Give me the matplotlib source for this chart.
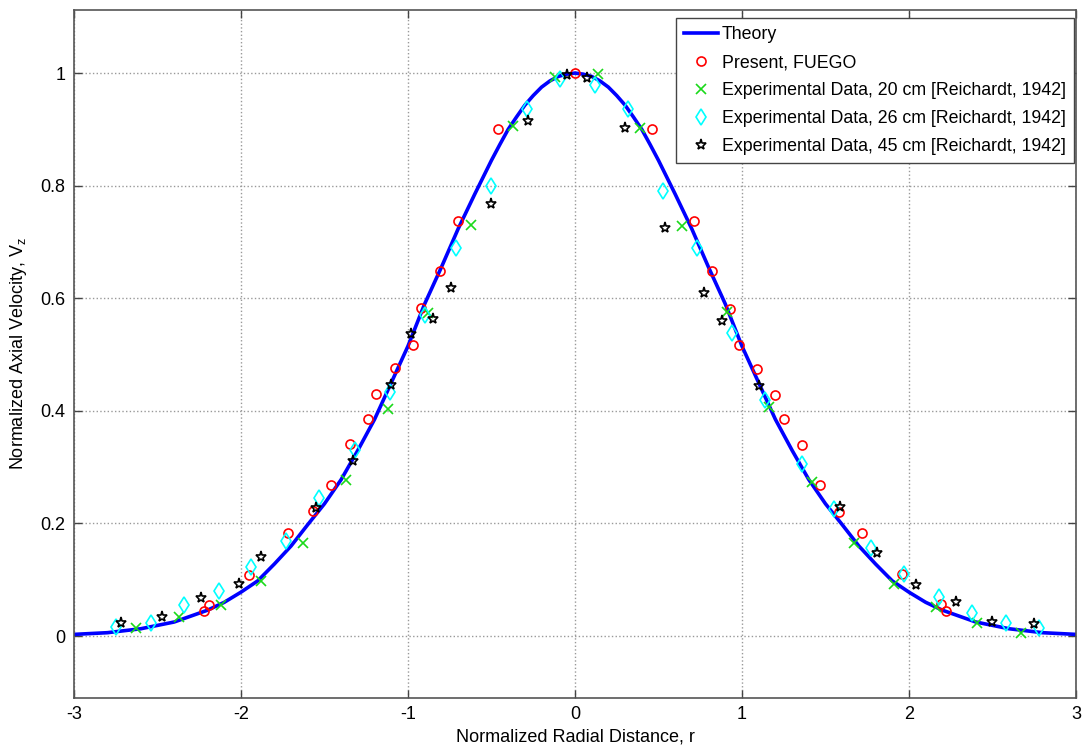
import matplotlib
matplotlib.use("Agg")
import matplotlib.pyplot as plt

plt.rcParams['font.family'] = ['Liberation Sans', 'DejaVu Sans']

# Theory curve
theory_r = [-3.0, -2.8, -2.6, -2.4, -2.2, -2.1, -2.0, -1.9, -1.8, -1.7, -1.6, -1.5, -1.4, -1.3,
            -1.2, -1.1, -1.0, -0.9, -0.8, -0.7, -0.6, -0.5, -0.45, -0.4, -0.35, -0.3, -0.25,
            -0.2, -0.15, -0.1, -0.05, 0.0,
            0.05, 0.1, 0.15, 0.2, 0.25, 0.3, 0.35, 0.4, 0.45, 0.5, 0.6, 0.7, 0.8, 0.9, 1.0,
            1.1, 1.2, 1.3, 1.4, 1.5, 1.6, 1.7, 1.8, 1.9, 2.0, 2.1, 2.2, 2.4, 2.6, 2.8, 3.0]
theory_v = [0.003, 0.006, 0.013, 0.025, 0.046, 0.060, 0.078, 0.098, 0.128, 0.160, 0.198, 0.235,
            0.278, 0.330, 0.385, 0.450, 0.515, 0.590, 0.655, 0.723, 0.785, 0.845, 0.873, 0.900,
            0.922, 0.943, 0.960, 0.975, 0.986, 0.994, 0.998, 1.0,
            0.998, 0.994, 0.986, 0.975, 0.960, 0.943, 0.922, 0.900, 0.873, 0.845, 0.785, 0.723,
            0.655, 0.590, 0.515, 0.450, 0.385, 0.330, 0.278, 0.235, 0.198, 0.160, 0.128, 0.098,
            0.078, 0.060, 0.046, 0.025, 0.013, 0.006, 0.003]

fuego_r = [-2.22, -2.19, -1.95, -1.72, -1.57, -1.46, -1.35, -1.24, -1.19, -1.08, -0.97, -0.92,
           -0.81, -0.70, -0.46, 0.0, 0.46, 0.71, 0.82, 0.93, 0.98, 1.09, 1.20, 1.25, 1.36,
           1.47, 1.58, 1.72, 1.96, 2.19, 2.22]
fuego_v = [0.045, 0.056, 0.109, 0.183, 0.223, 0.269, 0.341, 0.385, 0.430, 0.476, 0.517, 0.582,
           0.648, 0.738, 0.900, 1.0, 0.900, 0.738, 0.648, 0.581, 0.517, 0.475, 0.429, 0.385,
           0.340, 0.269, 0.221, 0.183, 0.110, 0.057, 0.045]

exp20_r = [-2.63, -2.37, -2.12, -1.88, -1.63, -1.37, -1.12, -0.88, -0.62, -0.37, -0.12, 0.14,
           0.39, 0.64, 0.91, 1.16, 1.42, 1.67, 1.91, 2.16, 2.41, 2.67]
exp20_v = [0.015, 0.034, 0.056, 0.098, 0.165, 0.278, 0.403, 0.573, 0.730, 0.906, 0.993, 0.998,
           0.903, 0.728, 0.576, 0.406, 0.274, 0.165, 0.092, 0.052, 0.024, 0.005]

exp26_r = [-2.75, -2.54, -2.34, -2.13, -1.94, -1.73, -1.53, -1.32, -1.11, -0.90, -0.71, -0.50,
           -0.29, -0.09, 0.12, 0.32, 0.53, 0.73, 0.94, 1.14, 1.36, 1.55, 1.77, 1.97, 2.18,
           2.38, 2.58, 2.78]
exp26_v = [0.017, 0.023, 0.056, 0.080, 0.123, 0.168, 0.246, 0.330, 0.434, 0.570, 0.690, 0.800,
           0.937, 0.989, 0.979, 0.937, 0.791, 0.689, 0.539, 0.420, 0.305, 0.225, 0.156, 0.111,
           0.070, 0.041, 0.023, 0.015]

exp45_r = [-2.72, -2.47, -2.24, -2.01, -1.88, -1.55, -1.33, -1.10, -0.98, -0.85, -0.74, -0.50,
           -0.28, -0.05, 0.07, 0.30, 0.54, 0.77, 0.88, 1.10, 1.59, 1.81, 2.04, 2.28, 2.50, 2.75]
exp45_v = [0.023, 0.033, 0.068, 0.092, 0.141, 0.227, 0.311, 0.446, 0.536, 0.564, 0.618, 0.767,
           0.914, 0.996, 0.992, 0.903, 0.724, 0.609, 0.560, 0.444, 0.230, 0.148, 0.091, 0.061,
           0.025, 0.021]

x_ticks = [-3, -2, -1, 0, 1, 2, 3]
y_ticks = [0, 0.2, 0.4, 0.6, 0.8, 1.0]
y_tick_labels = ['0', '0.2', '0.4', '0.6', '0.8', '1']

fig = plt.figure(figsize=(10.83, 7.52), dpi=100)
ax = fig.add_axes([0.0683, 0.0718, 0.9252, 0.9149])

ax.plot(theory_r, theory_v, color=(0, 0, 1), lw=2.6, label='Theory', zorder=2)
ax.plot(fuego_r, fuego_v, ls='none', marker='o', ms=6.5, mfc='none', mec='red', mew=1.2,
        label='Present, FUEGO', zorder=3)
ax.plot(exp20_r, exp20_v, ls='none', marker='x', ms=6.5, color=(0.1, 0.85, 0.1), mew=1.2,
        label='Experimental Data, 20 cm [Reichardt, 1942]', zorder=3)
ax.plot(exp26_r, exp26_v, ls='none', marker='d', ms=8, mfc='none', mec='cyan', mew=1.2,
        label='Experimental Data, 26 cm [Reichardt, 1942]', zorder=3)
ax.plot(exp45_r, exp45_v, ls='none', marker='*', ms=8, mfc='none', mec='black', mew=1.2,
        label='Experimental Data, 45 cm [Reichardt, 1942]', zorder=3)

ax.set_xlim(-3, 3)
ax.set_ylim(-0.11, 1.112)
ax.set_xticks(x_ticks)
ax.set_xticklabels([str(t) for t in x_ticks])
ax.set_yticks(y_ticks)
ax.set_yticklabels(y_tick_labels)
ax.tick_params(direction='in', top=True, right=True, length=6, width=1, labelsize=13,
               color='#444444', pad=6)
ax.grid(True, ls=':', color='#999999', lw=1)
for s in ax.spines.values():
    s.set_color('#555555')
    s.set_linewidth(1.2)

ax.set_xlabel('Normalized Radial Distance, r', fontsize=13, labelpad=4)
ax.set_ylabel('Normalized Axial Velocity, V$_\\mathregular{z}$', fontsize=13, labelpad=8)

leg = ax.legend(loc='upper right', bbox_to_anchor=(0.998, 0.988), borderaxespad=0,
                fontsize=12.8, numpoints=1, handlelength=1.9, handletextpad=0.25,
                labelspacing=0.62, fancybox=False, framealpha=1, borderpad=0.45)
leg.get_frame().set_edgecolor('#444444')
leg.get_frame().set_linewidth(1.0)

fig.savefig('out.png', dpi=100)
